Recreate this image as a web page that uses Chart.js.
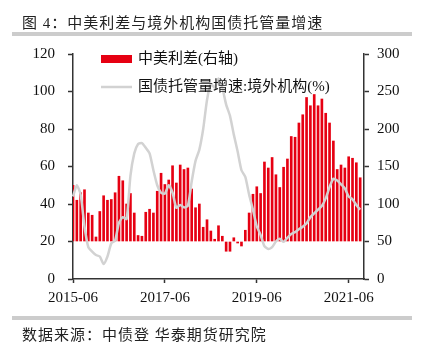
<!DOCTYPE html>
<html>
<head>
<meta charset="utf-8">
<script src="https://cdn.jsdelivr.net/npm/chart.js@4/dist/chart.umd.min.js"></script>
<style>
  html, body { margin: 0; padding: 0; background: #fff; }
  #wrap { position: relative; width: 422px; height: 345px; overflow: hidden; }
  #chart { position: absolute; left: 0; top: 0; }
  .title {
    position: absolute; left: 22px; top: 11px;
    font: 15px "Liberation Serif", "Noto Sans CJK SC", serif;
    letter-spacing: 1px; color: #222; white-space: nowrap;
  }
  .rule { position: absolute; left: 12px; width: 400px; height: 4px; background: #cccccc; }
  .source {
    position: absolute; left: 22px; top: 323px;
    font: 15px "Liberation Serif", "Noto Sans CJK SC", serif;
    letter-spacing: 1px; color: #222; white-space: nowrap;
  }
</style>
</head>
<body>
<div id="wrap">
  <canvas id="chart" width="422" height="345"></canvas>
  <div class="title">图 4：中美利差与境外机构国债托管量增速</div>
  <div class="rule" style="top:32px"></div>
  <div class="rule" style="top:316px"></div>
  <div class="source">数据来源：中债登 华泰期货研究院</div>
</div>
<script>
// monthly categories 2015-06 .. 2021-10
var months = [];
for (var yy = 2015; yy <= 2021; yy++) {
  for (var mm = 1; mm <= 12; mm++) {
    if (yy == 2015 && mm < 6) continue;
    if (yy == 2021 && mm > 10) continue;
    months.push(yy + "-" + (mm < 10 ? "0" + mm : mm));
  }
}
var shownTicks = ["2015-06", "2017-06", "2019-06", "2021-06"];

// 中美利差(右轴), bars start at 50
var spread = [125, 105, 115, 119, 88, 85, 56, 90, 111, 105,
  106, 115, 137, 131, 100, 114, 88, 58, 57, 89,
  93, 88, 117, 141, 126, 132, 151, 128, 152, 146,
  148, 120, 95, 100, 69, 79, 64, 53, 71, 57,
  37, 37, 55, 48, 44, 65, 88, 113, 123, 114,
  156, 148, 162, 139, 122, 149, 160, 190, 189, 208,
  219, 242, 231, 246, 231, 240, 221, 208, 184, 146,
  152, 148, 163, 161, 155, 135, null];

// 国债托管量增速:境外机构(%)
var custody = [44, 50, 45, 28, 17, 14.6, 12.8, 12, 8, 12,
  19, 20.5, 30, 33, 32, 55, 67, 72, 72.5, 70,
  67, 58, 50, 46, 45.5, 50, 46, 38, 39.5, 38.2,
  39, 52, 63, 69, 80, 95.5, 104, 102, 107, 102,
  93, 87, 77, 68, 58, 54.5, 45, 37, 28, 23.5,
  17.5, 16, 17, 20, 21.5, 19.8, 22, 24, 25, 26.5,
  27.9, 29.7, 33, 35, 37, 39, 43, 49, 53.5, 52.5,
  50.5, 48.3, 44, 42.5, 39.5, 37, null];

var RED = "#e60012";
var GREY = "#d2d2d2";
var AXIS = "#333333";
var tickFont = { family: "'Liberation Serif', serif", size: 15 };

var legendPlugin = {
  id: "legendBox",
  afterDatasetsDraw: function (chart) {
    var c = chart.ctx;
    c.save();
    c.fillStyle = RED;
    c.fillRect(101, 55, 31, 8);
    c.strokeStyle = GREY;
    c.lineWidth = 2.5;
    c.beginPath();
    c.moveTo(101, 87);
    c.lineTo(132, 87);
    c.stroke();
    c.fillStyle = "#111";
    c.font = "15px 'Liberation Serif', 'Noto Sans CJK SC', serif";
    c.textBaseline = "middle";
    c.fillText("中美利差(右轴)", 138, 59);
    c.fillText("国债托管量增速:境外机构(%)", 138, 87);
    c.restore();
  }
};

new Chart(document.getElementById("chart"), {
  type: "bar",
  data: {
    labels: months,
    datasets: [{
      type: "line",
      label: "国债托管量增速:境外机构(%)",
      data: custody,
      yAxisID: "y",
      borderColor: GREY,
      borderWidth: 2.5,
      pointRadius: 0,
      tension: 0.2,
      order: 0
    }, {
      type: "bar",
      label: "中美利差(右轴)",
      data: spread,
      yAxisID: "y2",
      base: 50,
      backgroundColor: RED,
      barThickness: 2,
      order: 1
    }]
  },
  options: {
    responsive: false,
    animation: false,
    devicePixelRatio: 1,
    layout: { padding: { top: 54, left: 0, right: 0, bottom: 0 } },
    plugins: { legend: { display: false }, tooltip: { enabled: false } },
    scales: {
      x: {
        offset: false,
        grid: { offset: false, drawOnChartArea: false, tickLength: 4, tickColor: AXIS, tickWidth: 1.5 },
        border: { color: AXIS, width: 1.5 },
        afterBuildTicks: function (scale) {
          scale.ticks = scale.ticks.filter(function (t) {
            return shownTicks.indexOf(months[t.value]) >= 0;
          });
        },
        ticks: {
          autoSkip: false, maxRotation: 0, padding: 6,
          color: "#111", font: tickFont,
          callback: function (v) { return months[v]; }
        },
        afterFit: function (scale) { scale.height = 66; }
      },
      y: {
        position: "left",
        min: 0, max: 120,
        grid: { drawOnChartArea: false, tickLength: 5, tickColor: AXIS, tickWidth: 1.5 },
        border: { color: AXIS, width: 1.5 },
        ticks: { stepSize: 20, padding: 13, color: "#111", font: tickFont },
        afterFit: function (scale) { scale.width = 73; }
      },
      y2: {
        position: "right",
        min: 0, max: 300,
        grid: { drawOnChartArea: false, tickLength: 5, tickColor: AXIS, tickWidth: 1.5 },
        border: { color: AXIS, width: 1.5 },
        ticks: { stepSize: 50, padding: 8, color: "#111", font: tickFont },
        afterFit: function (scale) { scale.width = 58; }
      }
    }
  },
  plugins: [legendPlugin]
});
</script>
</body>
</html>
